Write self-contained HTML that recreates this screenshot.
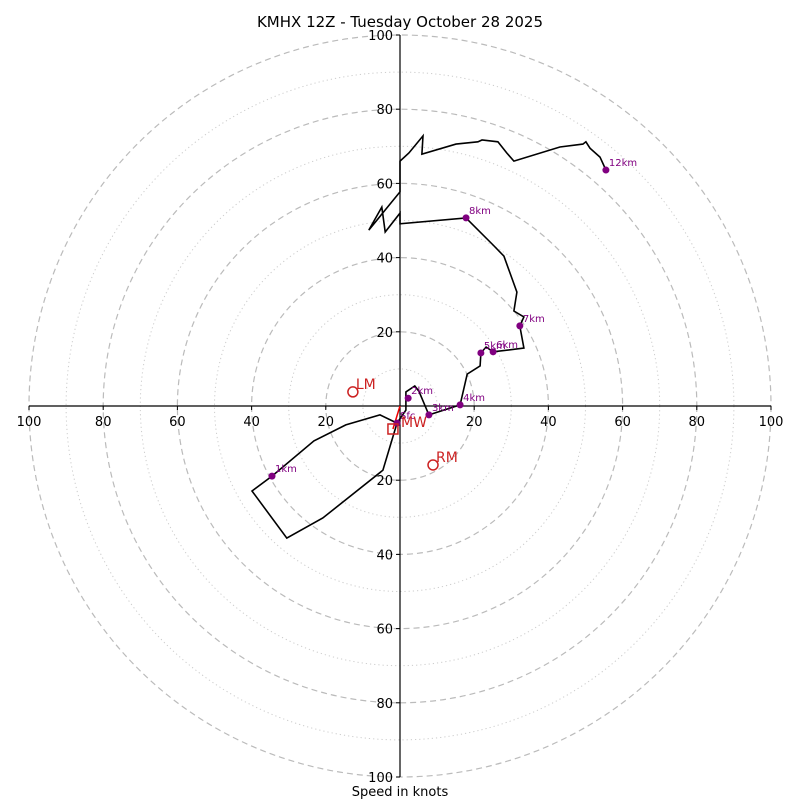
<!DOCTYPE html>
<html><head><meta charset="utf-8"><style>
body{margin:0;background:#fff}
svg{display:block;font-family:"DejaVu Sans","Liberation Sans",sans-serif}
</style></head><body>
<svg id="chart" width="800" height="800" viewBox="0 0 800 800" xmlns="http://www.w3.org/2000/svg">
<text x="400" y="27" text-anchor="middle" font-size="15">KMHX 12Z - Tuesday October 28 2025</text>
<text x="400" y="796" text-anchor="middle" font-size="13">Speed in knots</text>
<g id="rings"></g><g id="axes"></g><g id="trace"></g><g id="marks"></g>
</svg>
<script>
const ringValues=[10,20,30,40,50,60,70,80,90,100];
const tickValues=[20,40,60,80,100];
const hodoU=[-0.8,-5.4,-14.6,-23.2,-34.5,-39.9,-30.5,-20.8,-4.6,-0.8,1.6,1.6,4.0,5.1,7.8,16.2,18.1,21.6,21.8,23.2,25.1,33.4,32.3,33.4,30.7,31.5,28.0,25.1,17.8,0,0,-4.0,-4.9,-8.4,0,0,2.4,6.2,5.9,15.1,21.0,22.1,26.4,28.8,30.7,43.1,49.3,50.1,51.2,53.9,55.5];
const hodoV=[-4.6,-2.4,-5.1,-9.4,-18.9,-22.9,-35.6,-30.2,-17.3,-4.6,-1.1,3.8,5.4,4.0,-2.4,0.3,8.6,10.8,14.3,15.9,14.6,15.6,21.6,24.0,25.6,30.7,40.4,43.4,50.7,49.1,52.0,46.9,53.6,47.4,57.7,66.0,68.2,72.8,67.9,70.6,71.2,71.7,71.2,68.2,66.0,69.8,70.6,71.2,69.5,67.1,63.6];
const kmLabels=["Sfc","1km","2km","3km","4km","5km","6km","7km","8km","12km"];
const kmU=[-0.8,-34.5,2.2,7.8,16.2,21.8,25.1,32.3,17.8,55.5];
const kmV=[-4.6,-18.9,2.1,-2.4,0.3,14.3,14.6,21.6,50.7,63.6];
const motionLabels=["LM","RM"];
const motionU=[-12.7,8.9];
const motionV=[3.8,-15.9];
const mwU=[-0.8];const mwV=[-4.6];
const devU=[-1.9];const devV=[-6.2];
const cx=400,cy=406,R=371;
const sx=u=>cx+u*R/100, sy=v=>cy-v*R/100;
const NS="http://www.w3.org/2000/svg";
function mk(tag,attrs,parent,text){const e=document.createElementNS(NS,tag);for(const k in attrs)e.setAttribute(k,attrs[k]);if(text!==undefined)e.textContent=text;document.getElementById(parent).appendChild(e);return e;}
ringValues.forEach(r=>{
 const c=mk('circle',{cx:cx,cy:cy,r:r*R/100,fill:'none',stroke:r%20===0?'#bbb':'#ccc','stroke-width':r%20===0?1.2:1,'stroke-dasharray':r%20===0?'6,4':'1.2,3'},'rings');
 
 
});
let l=mk('line',{x1:sx(-100),y1:cy,x2:sx(100),y2:cy,stroke:'#000','stroke-width':1.2},'axes');


l=mk('line',{x1:cx,y1:sy(100),x2:cx,y2:sy(-100),stroke:'#000','stroke-width':1.2},'axes');


tickValues.forEach(t=>{
 [-1,1].forEach(s=>{
  const x=sx(s*t);
  mk('line',{x1:x,y1:cy,x2:x,y2:cy+4,stroke:'#000'},'axes');
  const tx=mk('text',{x:x,y:cy+20,'text-anchor':'middle','font-size':13},'axes',String(t));
  
  
  const y=sy(s*t);
  mk('line',{x1:cx-4,y1:y,x2:cx,y2:y,stroke:'#000'},'axes');
  const ty=mk('text',{x:cx-7,y:y+5,'text-anchor':'end','font-size':13},'axes',String(t));
  
  
 });
});
const pts=hodoU.map((u,i)=>sx(u).toFixed(1)+','+sy(hodoV[i]).toFixed(1)).join(' ');
const pl=mk('polyline',{points:pts,fill:'none',stroke:'#000','stroke-width':1.6},'trace');


const arr=mk('line',{x1:cx,y1:cy,x2:sx(devU[0]),y2:sy(devV[0]),stroke:'#e00','stroke-width':1.5},'marks');


kmLabels.forEach((lab,i)=>{
 const d=mk('circle',{cx:sx(kmU[i]),cy:sy(kmV[i]),r:3.5,fill:'#800080'},'marks');
 
 
 const t=mk('text',{x:sx(kmU[i])+3,y:sy(kmV[i])-4,'font-size':10,fill:'#800080'},'marks',lab);
 
 
});
motionLabels.forEach((lab,i)=>{
 const c=mk('circle',{cx:sx(motionU[i]),cy:sy(motionV[i]),r:5,fill:'none',stroke:'#c22','stroke-width':1.5},'marks');
 
 
 const t=mk('text',{x:sx(motionU[i])+3,y:sy(motionV[i])-3,'font-size':14,fill:'#c22'},'marks',lab);
 
 
});
const mw=mk('text',{x:sx(mwU[0])+4,y:sy(mwV[0])+4,'font-size':14,fill:'#c22'},'marks','MW');


const dv=mk('rect',{x:sx(devU[0])-5,y:sy(devV[0])-5,width:10,height:10,fill:'none',stroke:'#c22','stroke-width':1.5},'marks');


</script>
</body></html>
